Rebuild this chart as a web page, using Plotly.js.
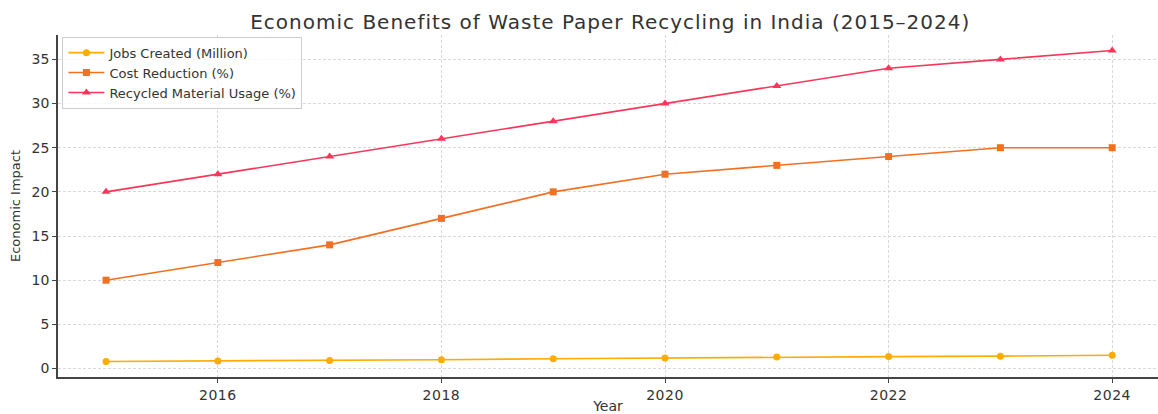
<!DOCTYPE html>
<html>
<head>
<meta charset="utf-8">
<script src="https://cdn.plot.ly/plotly-3.0.1.min.js"></script>
<style>
html,body{margin:0;padding:0;background:#fff;}
#chart{width:1158px;height:414px;}
#chart .gtitle{letter-spacing:1px;}
#chart .xtick text{letter-spacing:0.5px;}
</style>
</head>
<body>
<div id="chart"></div>
<script>
const years = [2015, 2016, 2017, 2018, 2019, 2020, 2021, 2022, 2023, 2024];
const jobsCreated = [0.8, 0.85, 0.9, 1.0, 1.1, 1.2, 1.3, 1.35, 1.4, 1.5];
const costReduction = [10, 12, 14, 17, 20, 22, 23, 24, 25, 25];
const recycledUsage = [20, 22, 24, 26, 28, 30, 32, 34, 35, 36];
const xTicks = [2016, 2018, 2020, 2022, 2024];
const yTicks = [0, 5, 10, 15, 20, 25, 30, 35];

const traces = [
  {x: years, y: jobsCreated, name: 'Jobs Created (Million)', mode: 'lines+markers',
   line: {color: '#ffab00', width: 1.6}, marker: {symbol: 'circle', size: 7, color: '#ffab00'}},
  {x: years, y: costReduction, name: 'Cost Reduction (%)', mode: 'lines+markers',
   line: {color: '#f36f21', width: 1.6}, marker: {symbol: 'square', size: 7, color: '#f36f21'}},
  {x: years, y: recycledUsage, name: 'Recycled Material Usage (%)', mode: 'lines+markers',
   line: {color: '#f7365a', width: 1.6}, marker: {symbol: 'triangle-up', size: 8, color: '#f7365a'}}
];

const layout = {
  width: 1158, height: 414,
  margin: {l: 58, r: 0, t: 35, b: 37},
  paper_bgcolor: '#fff', plot_bgcolor: '#fff',
  font: {family: 'DejaVu Sans', color: '#333', size: 13},
  title: {text: 'Economic Benefits of Waste Paper Recycling in India (2015–2024)',
          font: {size: 20, color: '#333'}, x: 0.527, xanchor: 'center', y: 0.948, yanchor: 'middle'},
  xaxis: {
    title: {text: 'Year', font: {size: 14}, standoff: 4},
    range: [2014.57, 2024.41], tickvals: xTicks, ticktext: xTicks.map(String),
    showgrid: true, gridcolor: '#d8d8d8', griddash: '3px,2px', gridwidth: 0.8,
    showline: true, linecolor: '#444', linewidth: 1.5, mirror: false,
    ticks: 'outside', ticklen: 4, tickcolor: '#444', zeroline: false,
    tickfont: {size: 14}
  },
  yaxis: {
    title: {text: 'Economic Impact', font: {size: 13}, standoff: 8},
    range: [-0.96, 37.76], tickvals: yTicks, ticktext: yTicks.map(String),
    showgrid: true, gridcolor: '#d8d8d8', griddash: '3px,2px', gridwidth: 0.8,
    showline: true, linecolor: '#444', linewidth: 1.5, mirror: false,
    ticks: 'outside', ticklen: 4, tickcolor: '#444', zeroline: false,
    tickfont: {size: 14}
  },
  legend: {x: 0.004, y: 0.995, xanchor: 'left', yanchor: 'top',
           bordercolor: '#ccc', borderwidth: 1, bgcolor: 'rgba(255,255,255,0.8)',
           font: {size: 13, color: '#333'}, tracegroupgap: 0, itemwidth: 36},
  showlegend: true
};

Plotly.newPlot('chart', traces, layout, {displayModeBar: false, responsive: false});
</script>
</body>
</html>
